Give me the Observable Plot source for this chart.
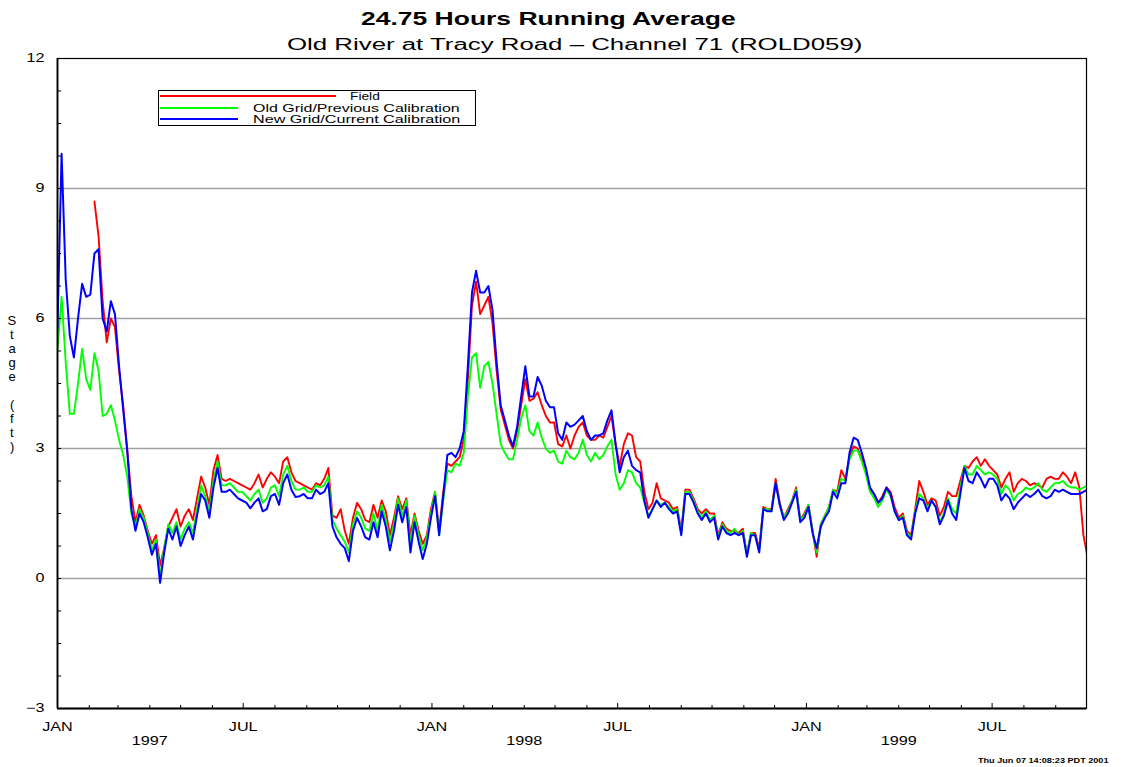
<!DOCTYPE html>
<html><head><meta charset="utf-8">
<script src="https://cdn.jsdelivr.net/npm/d3@7"></script>
<script src="https://cdn.jsdelivr.net/npm/@observablehq/plot@0.6"></script>
<style>
html,body{margin:0;padding:0;background:#fff;}
#wrap{position:relative;width:1127px;height:767px;overflow:hidden;font-family:"Liberation Sans",Arial,sans-serif;color:#000;}
.t{position:absolute;white-space:nowrap;line-height:1;transform-origin:0 50%;}
#wrap svg{position:absolute;left:0;top:0;}
</style></head><body><div id="wrap"></div>
<script>
// ---- data (sampled every 4 days from 1 Jan 1997) ----
const startDate = "1997-01-01";
const stepDays = 4;
const field = [
 null,null,null,null,null,null,null,null,null,8.7,
 7.9,6.4,5.45,6.0,5.8,4.8,4.0,2.95,1.9,1.3,
 1.7,1.45,1.1,0.8,1.0,0.3,0.7,1.2,1.4,1.6,
 1.2,1.45,1.6,1.35,1.85,2.35,2.1,1.7,2.5,2.85,
 2.3,2.25,2.3,2.25,2.2,2.15,2.1,2.05,2.2,2.4,
 2.1,2.3,2.45,2.35,2.2,2.7,2.8,2.45,2.25,2.2,
 2.15,2.1,2.05,2.2,2.15,2.3,2.55,1.45,1.4,1.6,
 1.1,0.8,1.4,1.75,1.6,1.35,1.3,1.7,1.4,1.8,
 1.55,1.0,1.4,1.9,1.6,1.85,1.0,1.5,1.1,0.8,
 1.0,1.6,2.0,1.1,2.0,2.65,2.6,2.7,2.8,3.2,
 4.6,6.3,6.85,6.1,6.3,6.5,5.9,4.8,3.9,3.55,
 3.2,3.0,3.4,4.0,4.6,4.1,4.15,4.3,4.0,3.75,
 3.6,3.6,3.1,3.05,3.3,3.0,3.3,3.5,3.6,3.3,
 3.2,3.2,3.3,3.25,3.5,3.75,3.1,2.6,3.1,3.35,
 3.3,2.8,2.7,2.0,1.6,1.75,2.2,1.85,1.8,1.75,
 1.6,1.65,1.1,2.05,2.05,1.85,1.6,1.5,1.6,1.5,
 1.5,1.0,1.3,1.15,1.1,1.1,1.05,1.15,0.55,1.05,
 1.05,0.7,1.65,1.6,1.6,2.3,1.75,1.4,1.6,1.8,
 2.1,1.35,1.5,1.7,1.1,0.5,1.25,1.45,1.65,2.05,
 2.0,2.5,2.3,2.8,3.05,3.0,2.75,2.45,2.05,1.95,
 1.75,1.9,2.1,2.0,1.65,1.4,1.5,1.1,1.0,1.6,
 2.25,2.0,1.7,1.85,1.8,1.45,1.65,2.0,1.9,1.9,
 2.25,2.6,2.55,2.7,2.8,2.6,2.75,2.6,2.5,2.4,
 2.1,2.3,2.45,2.0,2.2,2.3,2.25,2.15,2.2,2.15,
 2.1,2.3,2.35,2.3,2.3,2.45,2.35,2.2,2.45,2.1,
 1.0,0.5
];
const oldGrid = [
 5.3,6.5,5.0,3.8,3.8,4.5,5.3,4.6,4.35,5.2,
 4.8,3.75,3.8,4.0,3.65,3.2,2.85,2.35,1.5,1.2,
 1.6,1.4,1.05,0.65,0.9,0.05,0.7,1.25,1.05,1.3,
 0.9,1.15,1.3,1.05,1.6,2.15,1.9,1.55,2.25,2.7,
 2.15,2.15,2.2,2.1,2.0,2.0,1.9,1.8,1.95,2.05,
 1.75,1.85,2.1,2.15,1.9,2.4,2.6,2.25,2.05,2.05,
 2.1,2.0,2.0,2.15,2.1,2.15,2.35,1.35,1.15,1.0,
 0.85,0.6,1.25,1.55,1.4,1.15,1.1,1.5,1.1,1.7,
 1.35,0.85,1.25,1.85,1.45,1.8,0.8,1.45,1.0,0.65,
 0.95,1.5,2.0,1.0,1.8,2.5,2.45,2.65,2.6,2.9,
 4.2,5.1,5.2,4.4,4.9,5.0,4.5,3.8,3.1,2.9,
 2.75,2.75,3.2,3.7,4.0,3.4,3.3,3.6,3.25,3.0,
 2.9,2.95,2.7,2.65,2.95,2.8,2.75,2.9,3.2,2.85,
 2.7,2.9,2.75,2.85,3.05,3.2,2.4,2.05,2.2,2.5,
 2.45,2.2,2.1,1.75,1.45,1.6,1.8,1.7,1.75,1.65,
 1.55,1.6,1.05,2.0,2.0,1.8,1.55,1.4,1.55,1.35,
 1.45,0.95,1.25,1.1,1.05,1.15,1.0,1.1,0.55,1.05,
 1.0,0.65,1.6,1.6,1.55,2.2,1.7,1.4,1.55,1.8,
 2.05,1.35,1.45,1.7,1.1,0.6,1.25,1.45,1.65,2.05,
 1.95,2.3,2.25,2.75,2.95,2.95,2.7,2.4,2.0,1.85,
 1.65,1.8,2.05,1.9,1.55,1.35,1.45,1.05,0.95,1.55,
 1.95,1.85,1.6,1.8,1.65,1.3,1.5,1.85,1.6,1.5,
 2.1,2.6,2.4,2.4,2.6,2.5,2.4,2.45,2.4,2.3,
 1.95,2.15,2.05,1.8,1.95,2.0,2.1,2.05,2.1,2.2,
 2.05,2.0,2.1,2.2,2.2,2.25,2.15,2.1,2.1,2.05,
 2.1,2.15
];
const newGrid = [
 5.8,9.8,6.9,5.6,5.1,6.0,6.8,6.5,6.55,7.5,
 7.6,6.0,5.7,6.4,6.1,4.9,3.9,2.95,1.6,1.1,
 1.5,1.3,0.95,0.55,0.8,-0.1,0.6,1.15,0.9,1.2,
 0.75,1.0,1.2,0.9,1.45,1.95,1.8,1.4,2.1,2.55,
 2.0,2.0,2.05,1.95,1.85,1.8,1.75,1.62,1.75,1.85,
 1.55,1.6,1.9,1.95,1.7,2.2,2.4,2.05,1.88,1.9,
 1.95,1.85,1.85,2.05,1.95,2.0,2.2,1.2,0.95,0.8,
 0.7,0.4,1.1,1.4,1.2,0.95,0.9,1.3,0.95,1.55,
 1.2,0.65,1.1,1.7,1.3,1.65,0.6,1.3,0.85,0.45,
 0.8,1.4,1.9,1.0,1.9,2.85,2.9,2.8,3.0,3.4,
 4.9,6.6,7.1,6.6,6.6,6.75,6.2,5.0,4.0,3.65,
 3.3,3.05,3.5,4.2,4.9,4.2,4.2,4.65,4.45,4.1,
 3.95,3.95,3.35,3.2,3.6,3.5,3.55,3.65,3.75,3.4,
 3.2,3.3,3.3,3.35,3.65,3.88,3.1,2.45,2.8,2.95,
 2.6,2.5,2.45,1.8,1.4,1.6,1.8,1.65,1.75,1.6,
 1.5,1.55,1.0,1.95,1.95,1.75,1.5,1.35,1.5,1.3,
 1.4,0.9,1.2,1.05,1.0,1.05,1.0,1.05,0.5,1.0,
 1.0,0.6,1.6,1.55,1.55,2.2,1.7,1.35,1.5,1.75,
 2.0,1.3,1.4,1.65,1.05,0.7,1.2,1.4,1.55,2.0,
 1.85,2.2,2.2,2.9,3.25,3.2,2.9,2.55,2.1,1.95,
 1.75,1.85,2.1,1.95,1.55,1.35,1.4,1.0,0.9,1.5,
 1.85,1.8,1.55,1.8,1.65,1.25,1.45,1.8,1.5,1.35,
 1.95,2.55,2.25,2.2,2.45,2.3,2.1,2.3,2.3,2.15,
 1.8,1.95,1.85,1.6,1.75,1.85,1.95,1.88,1.95,2.05,
 1.9,1.85,1.9,2.05,2.0,2.05,2.0,1.95,1.95,1.95,
 2.0,2.05
];
const seriesNames = ["Field","Old Grid/Previous Calibration","New Grid/Current Calibration"];
const seriesColors = ["#ff0000","#00ff00","#0000ff"];
const yTicks = [-3,0,3,6,9,12];
const gridValues = [0,3,6,9];
const yearLabels = [["1997","1997-04-01"],["1998","1998-04-01"],["1999","1999-04-01"]];
const xDomain = ["1997-01-01","1999-10-01"];
const titleText = "24.75 Hours Running Average";
const subtitleText = "Old River at Tracy Road \u2013 Channel 71 (ROLD059)";
const yLabelChars = ["S","t","a","g","e","","(","f","t",")"];
const stampText = "Thu Jun 07 14:08:23 PDT 2001";

// ---- build ----
const DAY = 864e5;
const t0 = Date.parse(startDate + "T00:00:00Z");
const rows = [];
[field, oldGrid, newGrid].forEach((arr, s) => {
  arr.forEach((v, i) => rows.push({series: seriesNames[s], date: new Date(t0 + i*stepDays*DAY), value: v}));
});
const byName = n => rows.filter(r => r.series === n);
const d0 = new Date(xDomain[0]+"T00:00:00Z"), d1 = new Date(xDomain[1]+"T00:00:00Z");
const months = d3.utcMonth.range(d0, new Date(d1.getTime()+1));
const majors = months.filter(d => d.getUTCMonth() % 6 === 0);
const minors = months.filter(d => d.getUTCMonth() % 6 !== 0);
const yMinor = d3.range(-3, 12.01, 0.75);

const svg = Plot.plot({
  width: 1127, height: 767,
  marginLeft: 57, marginRight: 41, marginTop: 58, marginBottom: 59,
  style: {fontFamily: '"Liberation Sans", Arial, sans-serif', fontSize: "12px", color: "#000", background: "transparent"},
  x: {type: "utc", domain: [d0, d1], label: null},
  y: {domain: [-3, 12], label: null},
  marks: [
    Plot.ruleY(gridValues, {stroke: "#a0a0a0", strokeWidth: 1.4}),
    Plot.line(byName(seriesNames[0]), {x: "date", y: "value", stroke: seriesColors[0], strokeWidth: 1.9, clip: true}),
    Plot.line(byName(seriesNames[1]), {x: "date", y: "value", stroke: seriesColors[1], strokeWidth: 1.9, clip: true}),
    Plot.line(byName(seriesNames[2]), {x: "date", y: "value", stroke: seriesColors[2], strokeWidth: 2, clip: true}),
    Plot.ruleY(yMinor, {y: d => d, x1: d0, x2: new Date(d0.getTime() + 4*DAY), stroke: "#000", strokeWidth: 1}),
    Plot.ruleX(majors, {x: d => d, y1: -3, y2: -3 + 5/43.3, stroke: "#000", strokeWidth: 1}),
    Plot.ruleX(minors, {x: d => d, y1: -3, y2: -3 + 3/43.3, stroke: "#000", strokeWidth: 1}),
    Plot.frame({stroke: "#000", strokeWidth: 1.2}),
    Plot.ruleX([d0], {stroke: "#000", strokeWidth: 1.8}),
    Plot.ruleY([-3], {stroke: "#000", strokeWidth: 1.8}),
    Plot.axisY({ticks: yTicks, tickSize: 0, tickPadding: 13, fontSize: 12, label: null}),
    Plot.axisX({ticks: majors, tickSize: 0, tickPadding: 14, fontSize: 12, label: null,
      tickFormat: d => d.getUTCMonth() === 0 ? "JAN" : "JUL"}),
    Plot.text(yearLabels, {x: d => new Date(d[1]+"T00:00:00Z"), y: () => -3, text: d => d[0], dy: 33, fontSize: 12})
  ]
});
const wrap = document.getElementById("wrap");
wrap.appendChild(svg);
// horizontally stretch the svg labels like the original wide raster font
svg.querySelectorAll("text").forEach(t => {
  const L = t.getComputedTextLength();
  if (L > 0) { t.setAttribute("textLength", (L*1.35).toFixed(1)); t.setAttribute("lengthAdjust", "spacingAndGlyphs"); }
});

function label(text, {cx, left, cy, width, size, weight = "normal"}) {
  const s = document.createElement("span");
  s.className = "t"; s.textContent = text;
  s.style.fontSize = size + "px"; s.style.fontWeight = weight;
  wrap.appendChild(s);
  const w = s.offsetWidth, h = s.offsetHeight;
  const W = width || w;
  const l = left !== undefined ? left : cx - W/2;
  s.style.left = l + "px"; s.style.top = (cy - h/2) + "px";
  if (width) s.style.transform = `scaleX(${W / w})`;
  return s;
}
label(titleText, {cx: 548, cy: 18.5, width: 375, size: 18, weight: "bold"});
label(subtitleText, {cx: 575, cy: 45, width: 576, size: 16});

// legend
const box = document.createElement("div");
Object.assign(box.style, {position: "absolute", left: "158px", top: "90px", width: "318px", height: "36px", border: "1px solid #000", boxSizing: "border-box"});
wrap.appendChild(box);
const legendRows = [
  {y: 96, x2: 336, tx: 350, tw: 30},
  {y: 108, x2: 238, tx: 253, tw: 206},
  {y: 119, x2: 238, tx: 253, tw: 207}
];
legendRows.forEach((r, i) => {
  const ln = document.createElement("div");
  Object.assign(ln.style, {position: "absolute", left: "160px", top: (r.y - 1) + "px", width: (r.x2 - 160) + "px", height: "2px", background: seriesColors[i]});
  wrap.appendChild(ln);
  label(seriesNames[i], {left: r.tx, cy: r.y, width: r.tw, size: 11});
});

// y label, stacked characters
yLabelChars.forEach((c, i) => {
  if (c) label(c, {cx: 12, cy: 320 + i*14, size: 13});
});
label(stampText, {left: 978, cy: 760, width: 130, size: 7, weight: "bold"});
</script>
</body></html>
